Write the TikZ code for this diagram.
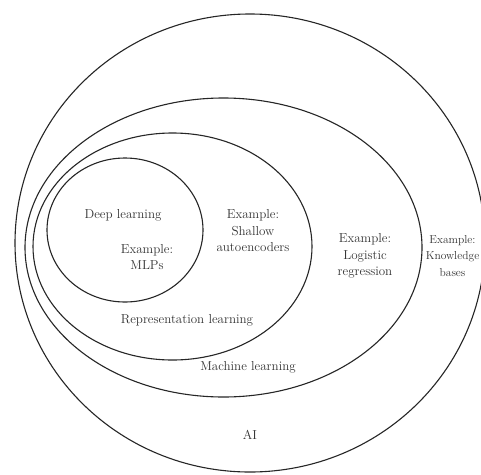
\documentclass[tikz,border=0pt]{standalone}
\begin{document}
\begin{tikzpicture}[x=1pt,y=-1pt,
  ring/.style={draw=black!85,line width=1.1pt},
  lbl/.style={align=center,inner sep=0pt,font=\fontsize{13}{16.5}\selectfont,text=black!80}]
\useasboundingbox (0,0) rectangle (481,474);
\clip (0,0) rectangle (481,474);
\fill[white] (0,0) rectangle (481,474);
% ellipses
\draw[ring] (250,243) ellipse [x radius=235, y radius=229];
\draw[ring] (223.5,247.5) ellipse [x radius=198.5, y radius=149.5];
\draw[ring] (172.5,246.5) ellipse [x radius=139.5, y radius=113.5];
\draw[ring] (125,230) ellipse [x radius=78, y radius=72];
% labels
\node[lbl] (dl) at (123,215) {Deep learning};
\node[lbl] (mlp) at (147,257) {Example:\\MLPs};
\node[lbl] (sae) at (253,231) {Example:\\Shallow\\autoencoders};
\node[lbl] (lr) at (365,256) {Example:\\Logistic\\regression};
\node[lbl,font=\fontsize{11.5}{16.5}\selectfont] (kb) at (452.5,256) {Example:\\Knowledge\\bases};
\node[lbl] (rl) at (187,320) {Representation learning};
\node[lbl] (ml) at (248,367) {Machine learning};
\node[lbl] (ai) at (250,435) {AI};
\end{tikzpicture}
\end{document}
